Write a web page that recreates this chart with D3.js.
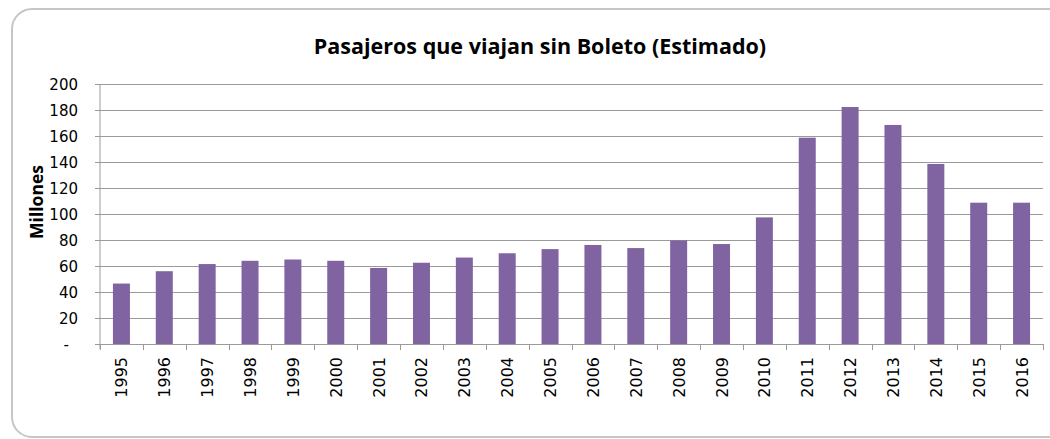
<!DOCTYPE html>
<html><head><meta charset="utf-8">
<script src="https://cdn.jsdelivr.net/npm/d3@7"></script>
<style>html,body{margin:0;padding:0;background:#fff;}</style>
</head><body>
<svg id="c" width="1050" height="439"></svg>
<script>
const years = ["1995","1996","1997","1998","1999","2000","2001","2002","2003","2004","2005","2006","2007","2008","2009","2010","2011","2012","2013","2014","2015","2016"];
const values = [46.5,56,61.5,64,65,64,58.5,62.5,66.5,69.8,73,76.2,73.8,79.7,76.9,97.4,158.7,182.3,168.5,138.5,108.7,108.7];
const yTicks = [0,20,40,60,80,100,120,140,160,180,200];
const yTickLabels = ["-","20","40","60","80","100","120","140","160","180","200"];
const title = "Pasajeros que viajan sin Boleto (Estimado)";
const yTitle = "Millones";

const svg = d3.select("#c");
const m = {left:100, right:1043, top:84, bottom:344};

svg.append("rect").attr("x",12).attr("y",9).attr("width",1060).attr("height",428)
  .attr("rx",20).attr("ry",20).attr("fill","#fff").attr("stroke","#c6c6c6").attr("stroke-width",2);

const xb = d3.scaleBand().domain(years).range([m.left,m.right]);
const y = d3.scaleLinear().domain([0,200]).range([m.bottom,m.top]);

// gridlines
svg.append("g").selectAll("line").data(yTicks.slice(1)).join("line")
  .attr("x1",m.left-5).attr("x2",m.right).attr("y1",d=>y(d)).attr("y2",d=>y(d))
  .attr("stroke","#9a9a9a").attr("stroke-width",1).attr("shape-rendering","crispEdges");

// bars
svg.append("g").selectAll("rect").data(values).join("rect")
  .attr("x",(d,i)=>xb(years[i]) + (xb.bandwidth()-17)/2)
  .attr("width",17)
  .attr("y",d=>y(d)).attr("height",d=>y(0)-y(d))
  .attr("fill","#8064a2");

// y axis
const yAxis = d3.axisLeft(y).tickValues(yTicks).tickSize(5).tickFormat((d,i)=>yTickLabels[i]);
const gy = svg.append("g").attr("transform",`translate(${m.left},0)`).call(yAxis);
gy.select(".domain").attr("stroke","#9a9a9a").attr("d",`M0,${m.top}V${m.bottom+5}`);
gy.selectAll(".tick line").attr("stroke","#9a9a9a");
gy.selectAll(".tick text").attr("font-family","DejaVu Sans").attr("font-size","15px").attr("fill","#000")
  .attr("x",-22).attr("dy","0.36em");
gy.selectAll(".tick text").filter(d=>d===0).attr("x",-31);

// x axis
const gx = svg.append("g").attr("transform",`translate(0,${m.bottom})`);
gx.append("line").attr("x1",m.left).attr("x2",m.right).attr("y1",0).attr("y2",0)
  .attr("stroke","#9a9a9a").attr("shape-rendering","crispEdges");
const bounds = years.map(d=>xb(d)).concat([m.right]);
gx.selectAll("line.t").data(bounds).join("line").attr("class","t")
  .attr("x1",d=>Math.round(d)+0.5).attr("x2",d=>Math.round(d)+0.5).attr("y1",0).attr("y2",6)
  .attr("stroke","#9a9a9a");
gx.selectAll("text").data(years).join("text")
  .attr("transform",d=>`translate(${xb(d)+xb.bandwidth()/2+6},13) rotate(-90)`)
  .attr("text-anchor","end").attr("font-family","DejaVu Sans").attr("font-size","16px").attr("fill","#000")
  .text(d=>d);

// title
svg.append("text").attr("x",540).attr("y",54).attr("text-anchor","middle")
  .attr("font-family","Open Sans").attr("font-weight","bold").attr("font-size","21.5px").attr("fill","#000")
  .text(title);

// y title
svg.append("text").attr("transform","translate(43,202) rotate(-90)").attr("text-anchor","middle")
  .attr("font-family","Open Sans").attr("font-weight","bold").attr("font-size","17.5px").attr("fill","#000")
  .text(yTitle);
</script>
</body></html>
